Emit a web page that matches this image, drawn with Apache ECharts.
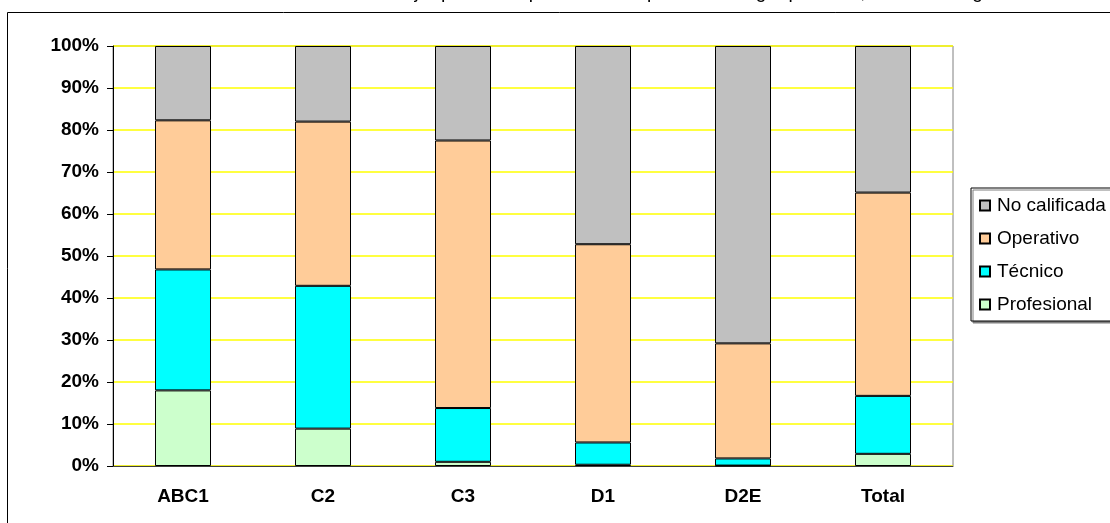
<!DOCTYPE html>
<html>
<head>
<meta charset="utf-8">
<script src="https://cdn.jsdelivr.net/npm/echarts@6/dist/echarts.min.js"></script>
<style>
html,body{margin:0;padding:0;background:#fff;}
#chart{width:1110px;height:523px;}
</style>
</head>
<body>
<div id="chart"></div>
<script>
const categories = ['ABC1', 'C2', 'C3', 'D1', 'D2E', 'Total'];
const profesional = [18.0, 8.9, 1.0, 0.3, 0.1, 2.9];
const tecnico = [28.8, 34.0, 12.8, 5.3, 1.7, 13.8];
const operativo = [35.5, 39.1, 63.7, 47.2, 27.4, 48.4];
const noCalificada = [17.7, 18.0, 22.5, 47.2, 70.8, 34.9];
const seriesNames = ['Profesional', 'Técnico', 'Operativo', 'No calificada'];
const seriesColors = ['#ccffcc', '#00ffff', '#ffcc99', '#c0c0c0'];
const yTicks = [0, 10, 20, 30, 40, 50, 60, 70, 80, 90, 100];
const titleText = 'Gráfico 3: Calificación del trabajo que desempeñan los ocupados del hogar por NSE, Gran Santiago';

const FONT = "'Liberation Sans', Arial, sans-serif";
const chart = echarts.init(document.getElementById('chart'));
const seriesData = [profesional, tecnico, operativo, noCalificada];

chart.setOption({
  animation: false,
  backgroundColor: '#fff',
  graphic: [
    {
      type: 'rect', silent: true,
      shape: { x: 7.5, y: 12.5, width: 1200, height: 600 },
      style: { fill: 'none', stroke: '#000', lineWidth: 1 }
    },
    {
      type: 'text', silent: true,
      style: {
        text: titleText, x: 572, y: 2, textAlign: 'center', textVerticalAlign: 'bottom',
        font: "19px 'Liberation Sans', Arial, sans-serif", fill: '#000'
      }
    }
  ],
  grid: {
    left: 113, right: 157, top: 46, bottom: 57,
    show: true, borderColor: '#808080', borderWidth: 1, backgroundColor: '#fff'
  },
  legend: {
    orient: 'vertical',
    left: 971, top: 188,
    data: ['No calificada', 'Operativo', 'Técnico', 'Profesional'],
    icon: 'rect',
    itemWidth: 10, itemHeight: 10, itemGap: 14,
    padding: [8, 12, 7, 8],
    backgroundColor: '#fff',
    borderColor: '#000', borderWidth: 1,
    shadowColor: '#808080', shadowOffsetX: 2, shadowOffsetY: 2, shadowBlur: 0,
    textStyle: { fontFamily: FONT, fontSize: 19, color: '#000', padding: [0, 0, 0, 2] },
    selectedMode: false
  },
  xAxis: {
    type: 'category',
    data: categories,
    axisLine: { show: true, lineStyle: { color: '#404040', width: 1 } },
    axisTick: { show: false },
    axisLabel: { fontFamily: FONT, fontSize: 19, fontWeight: 'bold', color: '#000', margin: 21 },
    splitLine: { show: false }
  },
  yAxis: {
    type: 'value',
    min: yTicks[0], max: yTicks[yTicks.length - 1], interval: 10,
    axisLine: { show: true, lineStyle: { color: '#000', width: 1 } },
    axisTick: { show: true, length: 6, lineStyle: { color: '#000' } },
    axisLabel: { fontFamily: FONT, fontSize: 19, fontWeight: 'bold', color: '#000', margin: 14, formatter: '{value}%' },
    splitLine: { show: true, lineStyle: { color: '#ffff00', width: 1.5 } }
  },
  series: seriesNames.map((name, i) => ({
    name: name,
    type: 'bar',
    stack: 'total',
    barWidth: 56,
    data: seriesData[i],
    itemStyle: { color: seriesColors[i], borderColor: '#000', borderWidth: 1 }
  }))
});
</script>
</body>
</html>
